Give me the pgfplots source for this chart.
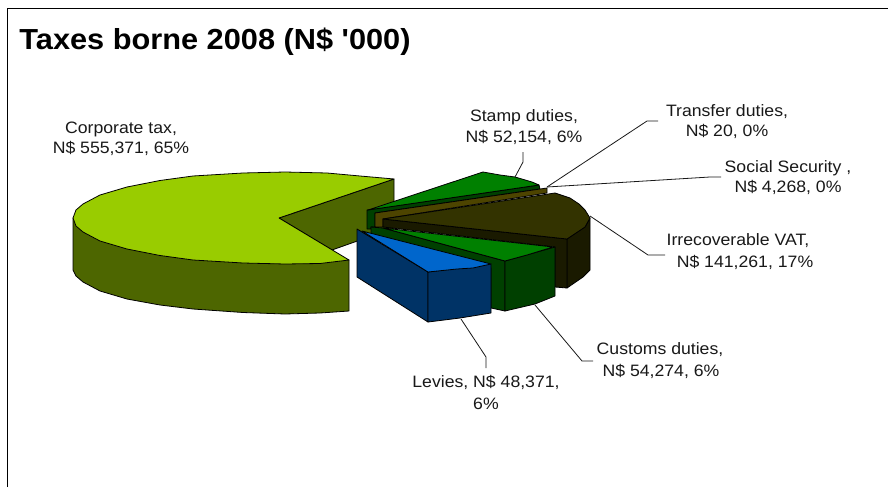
\documentclass[border=0pt]{standalone}
\usepackage{pgfplots}
\pgfplotsset{compat=1.18}
\usepackage{fontspec}
\setmainfont{Liberation Sans}
\newfontfamily\labf[FakeStretch=1.07]{Liberation Sans}
\newfontfamily\titf[FakeStretch=1.06]{Liberation Sans}
\definecolor{corp}{HTML}{99CC00}
\definecolor{corpd}{HTML}{4D6600}
\definecolor{gr}{HTML}{008000}
\definecolor{grd}{HTML}{004000}
\definecolor{ol}{HTML}{4D4400}
\definecolor{vat}{HTML}{333300}
\definecolor{vatd}{HTML}{1A1A00}
\definecolor{blu}{HTML}{0066CC}
\definecolor{blud}{HTML}{003366}
\newcommand{\lab}[3]{\node[anchor=base,inner sep=0pt,font=\labf\fontsize{16.5}{20}\selectfont,text=black!90] at (axis cs:#1,#2) {#3};}
\begin{document}
\begin{tikzpicture}
\begin{axis}[hide axis,scale only axis,width=888pt,height=487pt,xmin=0,xmax=888,ymin=0,ymax=487,y dir=reverse,clip=true]
\pgfplotsset{every axis plot/.append style={line width=1.4pt,line join=round}}
% page backdrop
\addplot[fill=white,draw=none] coordinates {(0,0)(888,0)(888,487)(0,487)} --cycle;
% frame
\addplot[draw=black,line width=1.8pt] coordinates {(7.5,487)(7.5,8.5)(888,8.5)};
% Corporate tax: inner face, side, top
\addplot[fill=corpd,draw=black] coordinates {(279,218)(394,179)(394,228)(332,250)} --cycle;
\addplot[fill=corpd,draw=black] coordinates {(73,218)(73,270)(76,276)(83,282)(100,291)(127,299)(160,305)(193,309)(243,312.5)(285,314)(320,313)(349,311)(349,260)} --cycle;
\addplot[fill=corp,draw=black] coordinates {(279,218)(394,179)(360,176)(327,173)(285,172)(243,173)(193,176)(160,180.5)(127,187)(100,195)(83,204)(76,210)(73,218)(76,226)(83,232)(100,241)(127,249)(160,255.5)(193,260)(243,263)(285,264)(320,263.5)(349,260)} --cycle;
% Stamp duties
\addplot[fill=grd,draw=black] coordinates {(367,210)(539,185)(540,189)(375,213)(375,227)(371,227)(371,229)(367,229)} --cycle;
\addplot[fill=gr,draw=black] coordinates {(368,210)(483,172)(500,175)(515,177)(532,182)(539,185)} --cycle;
% Social security / transfer
\addplot[fill=ol,draw=black] coordinates {(375,213)(547,188)(547,193)(383,219)(383,227)(375,227)} --cycle;
% Irrecoverable VAT
\addplot[fill=vatd,draw=black] coordinates {(567,239)(585,227)(590,218)(590,270)(583,277)(567,288)} --cycle;
\addplot[fill=vatd,draw=black] coordinates {(383,219)(383,227)(555,247)(555,287)(567,288)(567,239)} --cycle;
\addplot[fill=vat,draw=black] coordinates {(383,219)(555,193)(570,198)(579,204)(585,210)(590,218)(585,227)(567,239)} --cycle;
% Customs duties
\addplot[fill=grd,draw=black] coordinates {(371,227)(383,228)(505,261)(505,311)(491,308)(491,268)(371,240)} --cycle;
\addplot[fill=grd,draw=black] coordinates {(505,261)(555,247)(555,296)(535,304)(505,311)} --cycle;
\addplot[fill=gr,draw=black] coordinates {(383,228)(553,247)(527,255)(505,261)} --cycle;
% Levies
\addplot[fill=blud,draw=black] coordinates {(357,229)(428,272)(428,322)(357,277)} --cycle;
\addplot[fill=blud,draw=black] coordinates {(428,272)(491,264)(491,313)(460,318)(428,322)} --cycle;
\addplot[fill=blu,draw=black] coordinates {(362,231)(428,272)(457,269)(473,268)(491,264)} --cycle;
% Leader lines
\pgfplotsset{every axis plot/.append style={line width=0.8pt}}
\addplot[draw=black!90] coordinates {(523,152)(523,162)(515,177)};
\addplot[draw=black!90] coordinates {(658,121)(647,121)(547,187)};
\addplot[draw=black!90] coordinates {(721,177)(710,177)(547,187)};
\addplot[draw=black!90] coordinates {(590,216)(648,255)(665,255)};
\addplot[draw=black!90] coordinates {(535,305)(582,361)(593,361)};
\addplot[draw=black!90] coordinates {(461,319)(486,357)(486,368)};
% Text
\node[anchor=base,inner sep=0pt,font=\titf\bfseries\fontsize{29}{30}\selectfont] at (axis cs:215,50) {Taxes borne 2008 (N\$ '000)};
\lab{121}{133}{Corporate tax,}
\lab{121}{153}{N\$ 555,371, 65\%}
\lab{524}{121}{Stamp duties,}
\lab{524}{142}{N\$ 52,154, 6\%}
\lab{727}{116}{Transfer duties,}
\lab{727}{136}{N\$ 20, 0\%}
\lab{788}{172}{Social Security ,}
\lab{788}{192}{N\$ 4,268, 0\%}
\lab{738}{245}{Irrecoverable VAT,}
\lab{745}{267}{N\$ 141,261, 17\%}
\lab{660}{354}{Customs duties,}
\lab{661}{376}{N\$ 54,274, 6\%}
\lab{486}{387}{Levies, N\$ 48,371,}
\lab{486}{409}{6\%}
\end{axis}
\end{tikzpicture}
\end{document}
